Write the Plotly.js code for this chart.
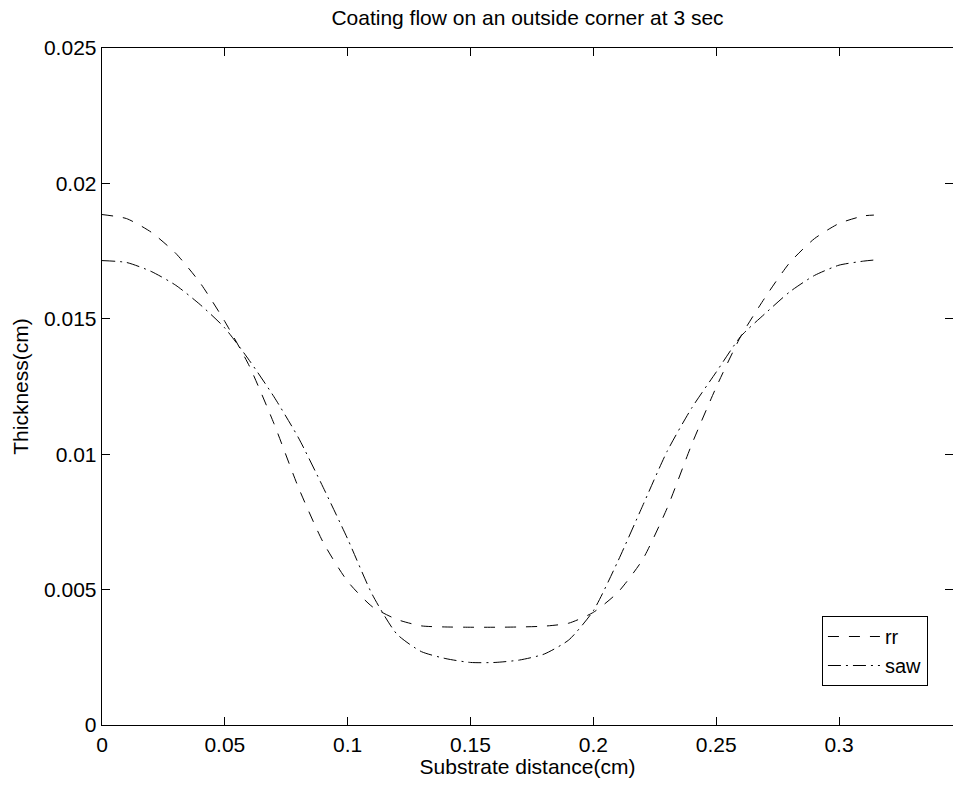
<!DOCTYPE html>
<html>
<head>
<meta charset="utf-8">
<script src="https://cdn.plot.ly/plotly-3.0.1.min.js"></script>
<style>html,body{margin:0;padding:0;background:#fff;}#chart{width:953px;height:787px;}</style>
</head>
<body>
<div id="chart"></div>
<script>
// Substrate distance (cm)
const xVals = [0, 0.01, 0.02, 0.03, 0.04, 0.05, 0.06, 0.07, 0.08, 0.09, 0.10,
  0.11, 0.12, 0.13, 0.14, 0.15, 0.16, 0.17, 0.18, 0.19, 0.20,
  0.21, 0.22, 0.23, 0.24, 0.25, 0.26, 0.27, 0.28, 0.29, 0.30, 0.31, 0.3142];

// Thickness (cm), series "rr"
const rrVals = [0.01885, 0.01870, 0.01820, 0.01742, 0.01632, 0.01490, 0.01325, 0.01113, 0.00876, 0.00675, 0.00530,
  0.00437, 0.00390, 0.00366, 0.00362, 0.00361, 0.00361, 0.00362, 0.00365, 0.00376, 0.00416,
  0.00490, 0.00610, 0.00800, 0.01035, 0.01247, 0.01435, 0.01580, 0.01708, 0.01796, 0.01852, 0.01880, 0.01883];

// Thickness (cm), series "saw"
const sawVals = [0.01715, 0.01708, 0.01675, 0.01624, 0.01552, 0.01466, 0.01346, 0.01212, 0.01060, 0.00878, 0.00687,
  0.00482, 0.00336, 0.00271, 0.00245, 0.00231, 0.00231, 0.00240, 0.00262, 0.00314, 0.00422,
  0.00605, 0.00808, 0.01010, 0.01170, 0.01303, 0.01435, 0.01520, 0.01600, 0.01660, 0.01698, 0.01713, 0.01717];

const seriesNames = ['rr', 'saw'];
const xTicks = [0, 0.05, 0.1, 0.15, 0.2, 0.25, 0.3];
const xTickText = ['0', '0.05', '0.1', '0.15', '0.2', '0.25', '0.3'];
const yTicks = [0, 0.005, 0.01, 0.015, 0.02, 0.025];
const yTickText = ['0', '0.005', '0.01', '0.015', '0.02', '0.025'];

const FONT = 'Liberation Sans, Arial, Helvetica, sans-serif';

const traces = [
  {x: xVals, y: rrVals, name: seriesNames[0], type: 'scatter', mode: 'lines',
   line: {color: '#000', width: 1, dash: '11px,10px', shape: 'spline', smoothing: 0.6}},
  {x: xVals, y: sawVals, name: seriesNames[1], type: 'scatter', mode: 'lines',
   line: {color: '#000', width: 1, dash: '13px,5px,2px,5px', shape: 'spline', smoothing: 0.6}}
];

const axisCommon = {
  showgrid: false, zeroline: false, showline: true, linecolor: '#000', linewidth: 1.3,
  mirror: 'ticks', ticks: 'inside', ticklen: 8, tickwidth: 1, tickcolor: '#000',
  tickfont: {family: FONT, size: 21, color: '#000'}
};

const layout = {
  width: 953, height: 787,
  margin: {l: 102, r: 0, t: 48, b: 62},
  paper_bgcolor: '#fff', plot_bgcolor: '#fff',
  font: {family: FONT, size: 21, color: '#000'},
  title: {text: 'Coating flow on an outside corner at 3 sec', x: 0.5, xref: 'paper',
          y: 0.977, yanchor: 'middle', font: {family: FONT, size: 21, color: '#000'}},
  xaxis: Object.assign({}, axisCommon, {
    range: [0, 0.3464], tickvals: xTicks, ticktext: xTickText,
    title: {text: 'Substrate distance(cm)', standoff: 3, font: {family: FONT, size: 21, color: '#000'}}
  }),
  yaxis: Object.assign({}, axisCommon, {
    range: [0, 0.025], tickvals: yTicks, ticktext: yTickText,
    title: {text: 'Thickness(cm)', standoff: 9, font: {family: FONT, size: 21, color: '#000'}}
  }),
  showlegend: true,
  legend: {x: 0.846, y: 0.161, xanchor: 'left', yanchor: 'top', bgcolor: '#fff',
           bordercolor: '#000', borderwidth: 1, itemwidth: 52, tracegroupgap: 0,
           font: {family: FONT, size: 20, color: '#000'}}
};

Plotly.newPlot('chart', traces, layout, {displayModeBar: false, staticPlot: true});
</script>
</body>
</html>
